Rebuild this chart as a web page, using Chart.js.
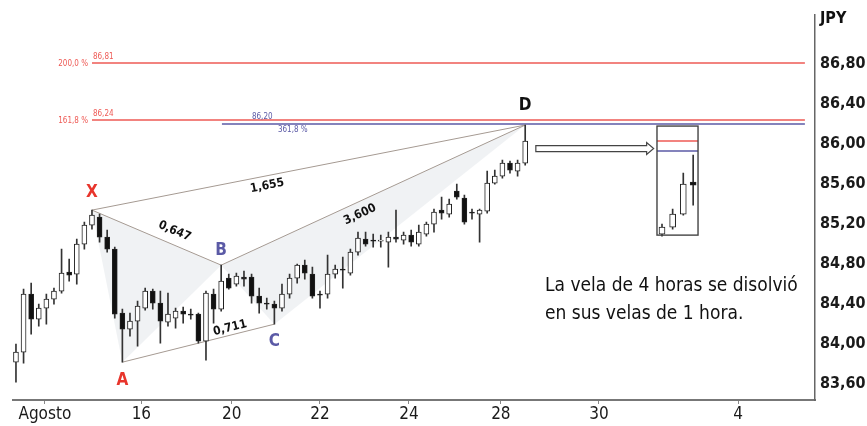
<!DOCTYPE html>
<html>
<head>
<meta charset="utf-8">
<script src="https://cdn.jsdelivr.net/npm/chart.js@4.4.1/dist/chart.umd.min.js"></script>
<style>
  html, body { margin: 0; padding: 0; background: #fff; }
</style>
</head>
<body>
<canvas id="chart" width="867" height="426"></canvas>
<script>
// USD/JPY, 4-hour candles (slot = candle index)
const opens = [
  83.82, 83.92, 84.50, 84.25, 84.36, 84.45, 84.53, 84.72, 84.70, 85.00,
  85.19, 85.27, 85.07, 84.95, 84.31, 84.15, 84.23, 84.36, 84.53, 84.41,
  84.22, 84.26, 84.33, 84.30, 84.30, 84.03, 84.50, 84.35, 84.66, 84.60,
  84.67, 84.67, 84.48, 84.41, 84.40, 84.36, 84.50, 84.66, 84.79, 84.70,
  84.50, 84.50, 84.70, 84.75, 84.71, 84.92, 85.05, 85.04, 85.03, 85.02,
  85.07, 85.04, 85.09, 85.00, 85.10, 85.20, 85.34, 85.30, 85.53, 85.46,
  85.32, 85.30, 85.33, 85.61, 85.68, 85.81, 85.73, 85.81
];
const highs = [
  84.00, 84.55, 84.61, 84.40, 84.50, 84.56, 84.95, 84.85, 85.05, 85.22,
  85.34, 85.30, 85.14, 84.97, 84.35, 84.31, 84.43, 84.56, 84.55, 84.53,
  84.51, 84.36, 84.37, 84.35, 84.31, 84.53, 84.55, 84.79, 84.70, 84.71,
  84.73, 84.70, 84.56, 84.46, 84.43, 84.60, 84.70, 84.80, 84.84, 84.77,
  84.53, 84.89, 84.79, 84.87, 84.95, 85.12, 85.12, 85.10, 85.09, 85.12,
  85.34, 85.12, 85.14, 85.19, 85.22, 85.35, 85.47, 85.45, 85.60, 85.49,
  85.35, 85.35, 85.73, 85.74, 85.84, 85.83, 85.84, 86.19
];
const lows = [
  83.62, 83.81, 84.10, 84.18, 84.20, 84.40, 84.51, 84.63, 84.60, 84.95,
  85.15, 85.02, 84.92, 84.26, 83.82, 84.08, 83.98, 84.34, 84.35, 84.01,
  84.18, 84.16, 84.21, 84.25, 84.01, 83.84, 84.21, 84.33, 84.55, 84.58,
  84.58, 84.41, 84.31, 84.35, 84.20, 84.33, 84.46, 84.61, 84.65, 84.46,
  84.36, 84.46, 84.66, 84.56, 84.69, 84.89, 84.98, 84.97, 84.97, 84.77,
  85.02, 85.00, 84.98, 84.98, 85.08, 85.12, 85.25, 85.27, 85.45, 85.20,
  85.25, 85.02, 85.31, 85.60, 85.66, 85.71, 85.68, 85.79
];
const closes = [
  83.92, 84.50, 84.25, 84.36, 84.45, 84.53, 84.71, 84.69, 85.00, 85.19,
  85.29, 85.07, 84.95, 84.30, 84.15, 84.23, 84.38, 84.53, 84.41, 84.23,
  84.30, 84.33, 84.30, 84.29, 84.03, 84.51, 84.35, 84.63, 84.56, 84.68,
  84.65, 84.48, 84.41, 84.40, 84.36, 84.50, 84.66, 84.79, 84.71, 84.48,
  84.49, 84.70, 84.75, 84.74, 84.92, 85.06, 85.00, 85.03, 85.04, 85.07,
  85.05, 85.09, 85.02, 85.12, 85.20, 85.32, 85.31, 85.40, 85.47, 85.22,
  85.31, 85.34, 85.61, 85.68, 85.81, 85.74, 85.81, 86.03
];

// last 4h candle split into 1h candles (drawn inside the box)
const insetSlots  = [85.0, 86.4, 87.8, 89.1];
const insetOpens  = [85.10, 85.17, 85.30, 85.62];
const insetHighs  = [85.20, 85.35, 85.71, 85.89];
const insetLows   = [85.08, 85.15, 85.29, 85.39];
const insetCloses = [85.17, 85.30, 85.60, 85.59];
const insetBoxSlots = [84.34, 89.74];
const insetBoxPrices = [86.18, 85.09];
const insetRed = 86.03;
const insetBlue = 85.93;

// axis ticks
const tickSlots  = [3.8, 16.5, 28.4, 40, 51.7, 63.8, 76.7, 95];
const tickLabels = ['Agosto', '16', '20', '22', '24', '28', '30', '4'];
const priceTicks = [83.6, 84.0, 84.4, 84.8, 85.2, 85.6, 86.0, 86.4, 86.8];

// XABCD pattern
const patternNames  = ['X', 'A', 'B', 'C', 'D'];
const patternSlots  = [10, 14, 27, 34, 67];
const patternPrices = [85.34, 83.82, 84.79, 84.20, 86.19];
const ratioLabels   = ['0,647', '1,655', '3,600', '0,711'];
const ratioSegments = [[0, 2], [0, 4], [2, 4], [1, 3]];

// fibonacci projections
const fibPrices = [86.81, 86.24];
const fibNames  = ['200,0 %', '161,8 %'];
const fibSpan   = [10, 103.8];
const bluePrice = 86.20;
const blueName  = '361,8 %';
const blueSpan  = [27.1, 103.8];

// arrow from D to the box
const arrowSlots = [68.4, 83.9];
const arrowPrice = 85.955;

const noteLines = ['La vela de 4 horas se disolvió', 'en sus velas de 1 hora.'];
const noteSlot = 69.6;
const notePrices = [84.58, 84.30];

const FONT = "'DejaVu Sans Condensed', 'Liberation Sans Narrow', sans-serif";
const RED = '#ee5a55';
const BLUE = '#5b5aa6';

function candleSets(slots, o, h, l, c, bodyWidth) {
  const bodyColor = ctx => c[ctx.dataIndex] >= o[ctx.dataIndex] ? '#ffffff' : '#111111';
  return [
    {
      type: 'bar', grouped: false, barThickness: bodyWidth,
      data: slots.map((s, i) => ({ x: s, y: [o[i], c[i]] })),
      backgroundColor: bodyColor, borderColor: '#222', borderWidth: 1, borderSkipped: false
    },
    {
      type: 'bar', grouped: false, barThickness: 1,
      data: slots.map((s, i) => ({ x: s, y: [l[i], h[i]] })),
      backgroundColor: '#333', borderWidth: 0
    }
  ];
}

function segment(xs, ys, color, width) {
  return {
    type: 'line', data: xs.map((x, i) => ({ x: x, y: ys[i] })),
    borderColor: color, borderWidth: width, pointRadius: 0, fill: false, tension: 0
  };
}

const slots = opens.map((v, i) => i);
const datasets = [
  ...candleSets(slots, opens, highs, lows, closes, 5),
  ...candleSets(insetSlots, insetOpens, insetHighs, insetLows, insetCloses, 6)
];
ratioSegments.forEach(([a, b]) => {
  datasets.push(segment([patternSlots[a], patternSlots[b]], [patternPrices[a], patternPrices[b]], '#a59a92', 1));
});
fibPrices.forEach(p => datasets.push(segment(fibSpan, [p, p], RED, 1.6)));
datasets.push(segment(blueSpan, [bluePrice, bluePrice], BLUE, 1.6));
datasets.push(segment(insetBoxSlots, [insetRed, insetRed], RED, 1.4));
datasets.push(segment(insetBoxSlots, [insetBlue, insetBlue], BLUE, 1.4));

const overlay = {
  id: 'overlay',
  beforeDatasetsDraw(chart) {
    const { ctx, scales: { x, y } } = chart;
    ctx.save();
    ctx.fillStyle = 'rgba(195,202,212,0.25)';
    [[0, 1, 2], [2, 3, 4]].forEach(tri => {
      ctx.beginPath();
      tri.forEach((k, n) => {
        const px = x.getPixelForValue(patternSlots[k]);
        const py = y.getPixelForValue(patternPrices[k]);
        if (n) ctx.lineTo(px, py); else ctx.moveTo(px, py);
      });
      ctx.closePath();
      ctx.fill();
    });
    ctx.restore();
  },
  afterDatasetsDraw(chart) {
    const { ctx, scales: { x, y } } = chart;
    ctx.save();

    // box around the 1h candles
    const bx0 = x.getPixelForValue(insetBoxSlots[0]), bx1 = x.getPixelForValue(insetBoxSlots[1]);
    const by0 = y.getPixelForValue(insetBoxPrices[0]), by1 = y.getPixelForValue(insetBoxPrices[1]);
    ctx.strokeStyle = '#444';
    ctx.lineWidth = 1.4;
    ctx.strokeRect(bx0, by0, bx1 - bx0, by1 - by0);

    // hollow arrow
    const ax0 = x.getPixelForValue(arrowSlots[0]), ax1 = x.getPixelForValue(arrowSlots[1]);
    const ay = y.getPixelForValue(arrowPrice);
    const head = ax1 - 7;
    ctx.lineWidth = 1.2;
    ctx.beginPath();
    ctx.moveTo(ax0, ay - 3); ctx.lineTo(head, ay - 3); ctx.lineTo(head, ay - 6);
    ctx.lineTo(ax1, ay); ctx.lineTo(head, ay + 6); ctx.lineTo(head, ay + 3);
    ctx.lineTo(ax0, ay + 3); ctx.closePath();
    ctx.fillStyle = '#fff';
    ctx.fill();
    ctx.stroke();

    // fib labels
    ctx.font = '8px ' + FONT;
    ctx.fillStyle = RED;
    fibPrices.forEach((p, i) => {
      const px = x.getPixelForValue(fibSpan[0]), py = y.getPixelForValue(p);
      ctx.textAlign = 'right'; ctx.textBaseline = 'middle';
      ctx.fillText(fibNames[i], px - 4, py + 1);
      ctx.textAlign = 'left'; ctx.textBaseline = 'bottom';
      ctx.fillText(p.toFixed(2).replace('.', ','), px + 1, py - 2);
    });
    ctx.fillStyle = BLUE;
    const bpx = x.getPixelForValue(blueSpan[0]), bpy = y.getPixelForValue(bluePrice);
    ctx.textAlign = 'left'; ctx.textBaseline = 'bottom';
    ctx.fillText(bluePrice.toFixed(2).replace('.', ','), bpx + 30, bpy - 3);
    ctx.textBaseline = 'top';
    ctx.fillText(blueName, bpx + 56, bpy + 2);

    // ratio labels along the legs
    const ratioPlace = [[0.6, 13], [0.4, -10], [0.44, -12], [0.72, 7]];
    ctx.font = 'bold 12px ' + FONT;
    ctx.fillStyle = '#111';
    ctx.textAlign = 'center'; ctx.textBaseline = 'middle';
    ratioSegments.forEach(([a, b], i) => {
      const x0 = x.getPixelForValue(patternSlots[a]), y0 = y.getPixelForValue(patternPrices[a]);
      const x1 = x.getPixelForValue(patternSlots[b]), y1 = y.getPixelForValue(patternPrices[b]);
      const dx = x1 - x0, dy = y1 - y0, len = Math.hypot(dx, dy);
      const [t, off] = ratioPlace[i];
      const cx = x0 + dx * t + (dy / len) * off;
      const cy = y0 + dy * t - (dx / len) * off;
      ctx.save();
      ctx.translate(cx, cy);
      ctx.rotate(Math.atan2(dy, dx));
      ctx.fillText(ratioLabels[i], 0, 0);
      ctx.restore();
    });

    // pattern point names
    const nameColors = ['#e8352c', '#e8352c', BLUE, BLUE, '#111'];
    const nameOffsets = [-18, 18, -15, 17, -19];
    ctx.font = 'bold 17px ' + FONT;
    patternNames.forEach((n, i) => {
      ctx.fillStyle = nameColors[i];
      ctx.fillText(n, x.getPixelForValue(patternSlots[i]), y.getPixelForValue(patternPrices[i]) + nameOffsets[i]);
    });

    // note
    ctx.font = '19px ' + FONT;
    ctx.fillStyle = '#111';
    ctx.textAlign = 'left'; ctx.textBaseline = 'middle';
    noteLines.forEach((s, i) => ctx.fillText(s, x.getPixelForValue(noteSlot), y.getPixelForValue(notePrices[i])));

    // currency label above the price axis
    ctx.font = 'bold 16px ' + FONT;
    ctx.fillText('JPY', y.left + 5, 19);
    ctx.restore();
  }
};

new Chart(document.getElementById('chart'), {
  data: { datasets: datasets },
  options: {
    responsive: false,
    animation: false,
    devicePixelRatio: 1,
    layout: { padding: { left: 13, top: 10, right: 0, bottom: 0 } },
    plugins: { legend: { display: false }, tooltip: { enabled: false } },
    scales: {
      x: {
        type: 'linear', min: -0.39, max: 105.13, offset: false,
        afterBuildTicks: s => { s.ticks = tickSlots.map(v => ({ value: v })); },
        afterFit: s => { s.height = 26; },
        grid: { drawOnChartArea: false, tickLength: 4, color: '#888', offset: false },
        border: { color: '#777', width: 2 },
        ticks: {
          autoSkip: false, maxRotation: 0, padding: 0, color: '#1a1a1a',
          font: { family: FONT, size: 17 },
          callback: (v, i) => tickLabels[i]
        }
      },
      y: {
        position: 'right', min: 83.442, max: 87.294,
        afterBuildTicks: s => { s.ticks = priceTicks.map(v => ({ value: v })); },
        afterFit: s => { s.width = 52; },
        grid: { drawOnChartArea: false, drawTicks: false },
        border: { color: '#666', width: 1.5 },
        ticks: {
          padding: 5, color: '#1a1a1a',
          font: { family: FONT, size: 16, weight: 'bold' },
          callback: v => v.toFixed(2).replace('.', ',')
        }
      }
    }
  },
  plugins: [overlay]
});
</script>
</body>
</html>
